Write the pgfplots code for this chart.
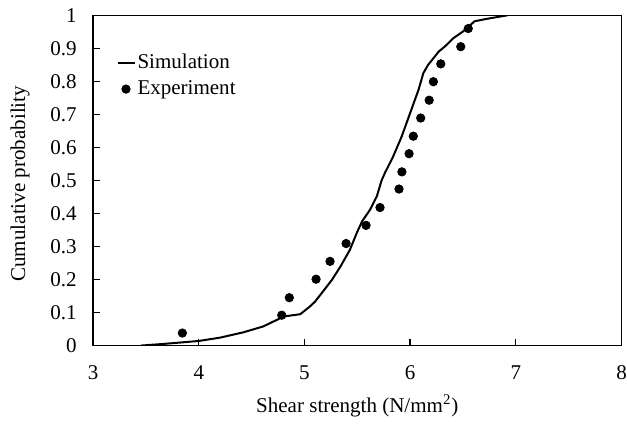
\documentclass[border=0pt]{standalone}
\usepackage{fontspec}
\setmainfont{Liberation Serif}
\usepackage{pgfplots}
\pgfplotsset{compat=1.18}

\begin{document}
\fontsize{10.5bp}{12.6bp}\selectfont
\begin{tikzpicture}
\begin{axis}[
	scale only axis,
	width=264bp, height=165bp,
	xmin=3, xmax=8, ymin=0, ymax=1,
	xtick={3,4,5,6,7,8},
	ytick={0,0.1,...,1},
	tick align=inside,
	xtick pos=bottom, ytick pos=left,
	major tick length=3.4bp,
	axis line style={line width=0.65bp},
	every tick/.style={black, line width=0.65bp},
	/pgf/number format/assume math mode=true,
	tick label style={font=\fontsize{10.5bp}{12.6bp}\selectfont},
	xticklabel style={inner sep=0pt, anchor=north, yshift=-10bp},
	yticklabel style={inner sep=0pt, anchor=east, xshift=-8bp},
	label style={font=\fontsize{10.5bp}{12.6bp}\selectfont},
	every axis x label/.style={at={(axis description cs:0.5,-0.2036)}, anchor=base},
	every axis y label/.style={at={(axis description cs:-0.1288,0.49)}, rotate=90, anchor=base},
	xlabel={Shear strength (N/mm\textsuperscript{2})},
	ylabel={Cumulative probability},
	legend cell align={left},
	legend style={draw=none, fill=none, at={(axis description cs:0.0436,0.893)},
		anchor=north west, inner sep=0pt, row sep=1bp, column sep=0pt,
		font=\fontsize{10.5bp}{12.6bp}\selectfont,
		nodes={inner sep=1bp, text height=7.5bp, text depth=2.5bp}},
]
\addplot[black, line width=1bp,
	legend image code/.code={\draw[black, line width=1bp] (0bp,0bp) -- (8.5bp,0bp);}]
coordinates {
	(3.45,0) (3.665,0.005) (4.0,0.014) (4.2,0.024) (4.42,0.04) (4.61,0.058)
	(4.74,0.078) (4.80,0.088) (4.96,0.095) (5.05,0.118) (5.10,0.133) (5.195,0.172)
	(5.26,0.199) (5.34,0.239) (5.43,0.29) (5.495,0.341) (5.545,0.376) (5.62,0.411)
	(5.685,0.452) (5.73,0.50) (5.76,0.522) (5.84,0.573) (5.92,0.633) (6.0,0.704)
	(6.08,0.775) (6.125,0.825) (6.17,0.85) (6.27,0.89) (6.33,0.906) (6.41,0.931)
	(6.50,0.951) (6.61,0.982) (6.72,0.989) (6.92,1.0)
};
\addlegendentry{Simulation}
\addplot[only marks, mark=*, mark size=2.1bp, black,
	legend image code/.code={\fill[black] (4.25bp,0bp) circle[radius=2.1bp];}]
coordinates {
	(3.845,0.038) (4.785,0.092) (4.857,0.145) (5.11,0.201) (5.242,0.255)
	(5.394,0.309) (5.583,0.364) (5.715,0.418) (5.895,0.474) (5.922,0.526)
	(5.99,0.581) (6.03,0.634) (6.10,0.689) (6.18,0.743) (6.22,0.799)
	(6.29,0.853) (6.479,0.905) (6.55,0.96)
};
\addlegendentry{Experiment}
\end{axis}
\path (current axis.south west) ++(-46.5bp,-37.65bp) rectangle (current axis.north east);
\path (current axis.north east) ++(2.75bp,7.65bp) coordinate (tr);
\path (tr) -- (tr);
\end{tikzpicture}
\end{document}
